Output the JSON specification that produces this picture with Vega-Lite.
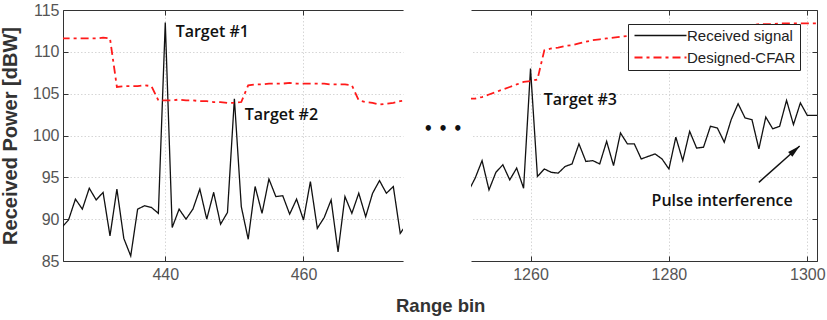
{
"$schema": "https://vega.github.io/schema/vega-lite/v6.json",
"background": "white",
"padding": {"left": 0, "top": 2, "right": 0, "bottom": 0},
"config": {
 "view": {"stroke": null},
 "axis": {"domainColor": "#333333", "domainWidth": 1, "tickColor": "#333333", "tickSize": -5, "tickWidth": 1,
  "labelFont": "Liberation Sans", "labelFontSize": 16, "labelColor": "#555555",
  "gridColor": "#d6d6d6", "gridDash": [1.5, 2], "gridWidth": 1,
  "titleFont": "Liberation Sans", "titleFontWeight": "bold", "titleColor": "#333333"}
},
"datasets": {
 "left": [
  {"bin":425,"power":89.0,"series":"Received signal"},{"bin":426,"power":89.9,"series":"Received signal"},{"bin":427,"power":92.4,"series":"Received signal"},{"bin":428,"power":91.2,"series":"Received signal"},{"bin":429,"power":93.7,"series":"Received signal"},{"bin":430,"power":92.3,"series":"Received signal"},{"bin":431,"power":93.2,"series":"Received signal"},{"bin":432,"power":88.0,"series":"Received signal"},{"bin":433,"power":93.6,"series":"Received signal"},{"bin":434,"power":87.7,"series":"Received signal"},{"bin":435,"power":85.6,"series":"Received signal"},{"bin":436,"power":91.2,"series":"Received signal"},{"bin":437,"power":91.6,"series":"Received signal"},{"bin":438,"power":91.4,"series":"Received signal"},{"bin":439,"power":90.7,"series":"Received signal"},{"bin":440,"power":113.5,"series":"Received signal"},{"bin":441,"power":89.0,"series":"Received signal"},{"bin":442,"power":91.2,"series":"Received signal"},{"bin":443,"power":90.0,"series":"Received signal"},{"bin":444,"power":91.2,"series":"Received signal"},{"bin":445,"power":93.6,"series":"Received signal"},{"bin":446,"power":90.0,"series":"Received signal"},{"bin":447,"power":93.2,"series":"Received signal"},{"bin":448,"power":89.4,"series":"Received signal"},{"bin":449,"power":90.8,"series":"Received signal"},{"bin":450,"power":104.4,"series":"Received signal"},{"bin":451,"power":91.5,"series":"Received signal"},{"bin":452,"power":87.6,"series":"Received signal"},{"bin":453,"power":93.9,"series":"Received signal"},{"bin":454,"power":90.7,"series":"Received signal"},{"bin":455,"power":94.8,"series":"Received signal"},{"bin":456,"power":92.7,"series":"Received signal"},{"bin":457,"power":92.8,"series":"Received signal"},{"bin":458,"power":90.6,"series":"Received signal"},{"bin":459,"power":92.4,"series":"Received signal"},{"bin":460,"power":89.9,"series":"Received signal"},{"bin":461,"power":94.5,"series":"Received signal"},{"bin":462,"power":88.9,"series":"Received signal"},{"bin":463,"power":90.2,"series":"Received signal"},{"bin":464,"power":92.3,"series":"Received signal"},{"bin":465,"power":86.1,"series":"Received signal"},{"bin":466,"power":92.7,"series":"Received signal"},{"bin":467,"power":90.7,"series":"Received signal"},{"bin":468,"power":93.1,"series":"Received signal"},{"bin":469,"power":90.3,"series":"Received signal"},{"bin":470,"power":93.1,"series":"Received signal"},{"bin":471,"power":94.6,"series":"Received signal"},{"bin":472,"power":93.1,"series":"Received signal"},{"bin":473,"power":93.9,"series":"Received signal"},{"bin":474,"power":88.3,"series":"Received signal"},{"bin":475,"power":89.5,"series":"Received signal"},
  {"bin":425,"power":111.6,"series":"Designed-CFAR"},{"bin":426,"power":111.6,"series":"Designed-CFAR"},{"bin":427,"power":111.6,"series":"Designed-CFAR"},{"bin":428,"power":111.6,"series":"Designed-CFAR"},{"bin":429,"power":111.6,"series":"Designed-CFAR"},{"bin":430,"power":111.6,"series":"Designed-CFAR"},{"bin":431,"power":111.7,"series":"Designed-CFAR"},{"bin":432,"power":111.6,"series":"Designed-CFAR"},{"bin":433,"power":105.8,"series":"Designed-CFAR"},{"bin":434,"power":105.9,"series":"Designed-CFAR"},{"bin":435,"power":105.9,"series":"Designed-CFAR"},{"bin":436,"power":105.9,"series":"Designed-CFAR"},{"bin":437,"power":106.0,"series":"Designed-CFAR"},{"bin":438,"power":105.9,"series":"Designed-CFAR"},{"bin":439,"power":104.2,"series":"Designed-CFAR"},{"bin":440,"power":104.2,"series":"Designed-CFAR"},{"bin":441,"power":104.2,"series":"Designed-CFAR"},{"bin":442,"power":104.3,"series":"Designed-CFAR"},{"bin":443,"power":104.2,"series":"Designed-CFAR"},{"bin":444,"power":104.2,"series":"Designed-CFAR"},{"bin":445,"power":104.1,"series":"Designed-CFAR"},{"bin":446,"power":104.1,"series":"Designed-CFAR"},{"bin":447,"power":104.0,"series":"Designed-CFAR"},{"bin":448,"power":104.0,"series":"Designed-CFAR"},{"bin":449,"power":103.9,"series":"Designed-CFAR"},{"bin":450,"power":103.9,"series":"Designed-CFAR"},{"bin":451,"power":104.0,"series":"Designed-CFAR"},{"bin":452,"power":106.0,"series":"Designed-CFAR"},{"bin":453,"power":106.1,"series":"Designed-CFAR"},{"bin":454,"power":106.1,"series":"Designed-CFAR"},{"bin":455,"power":106.2,"series":"Designed-CFAR"},{"bin":456,"power":106.2,"series":"Designed-CFAR"},{"bin":457,"power":106.2,"series":"Designed-CFAR"},{"bin":458,"power":106.3,"series":"Designed-CFAR"},{"bin":459,"power":106.2,"series":"Designed-CFAR"},{"bin":460,"power":106.2,"series":"Designed-CFAR"},{"bin":461,"power":106.2,"series":"Designed-CFAR"},{"bin":462,"power":106.2,"series":"Designed-CFAR"},{"bin":463,"power":106.2,"series":"Designed-CFAR"},{"bin":464,"power":106.1,"series":"Designed-CFAR"},{"bin":465,"power":106.1,"series":"Designed-CFAR"},{"bin":466,"power":106.1,"series":"Designed-CFAR"},{"bin":467,"power":106.0,"series":"Designed-CFAR"},{"bin":468,"power":104.2,"series":"Designed-CFAR"},{"bin":469,"power":104.0,"series":"Designed-CFAR"},{"bin":470,"power":103.9,"series":"Designed-CFAR"},{"bin":471,"power":103.7,"series":"Designed-CFAR"},{"bin":472,"power":103.8,"series":"Designed-CFAR"},{"bin":473,"power":103.9,"series":"Designed-CFAR"},{"bin":474,"power":104.1,"series":"Designed-CFAR"},{"bin":475,"power":104.2,"series":"Designed-CFAR"}
 ],
 "right": [
  {"bin":1251,"power":93.3,"series":"Received signal"},{"bin":1252,"power":94.9,"series":"Received signal"},{"bin":1253,"power":97.0,"series":"Received signal"},{"bin":1254,"power":93.5,"series":"Received signal"},{"bin":1255,"power":95.6,"series":"Received signal"},{"bin":1256,"power":96.5,"series":"Received signal"},{"bin":1257,"power":94.7,"series":"Received signal"},{"bin":1258,"power":96.1,"series":"Received signal"},{"bin":1259,"power":93.7,"series":"Received signal"},{"bin":1260,"power":108.0,"series":"Received signal"},{"bin":1261,"power":95.1,"series":"Received signal"},{"bin":1262,"power":96.0,"series":"Received signal"},{"bin":1263,"power":95.6,"series":"Received signal"},{"bin":1264,"power":95.5,"series":"Received signal"},{"bin":1265,"power":96.3,"series":"Received signal"},{"bin":1266,"power":96.6,"series":"Received signal"},{"bin":1267,"power":99.0,"series":"Received signal"},{"bin":1268,"power":96.9,"series":"Received signal"},{"bin":1269,"power":97.0,"series":"Received signal"},{"bin":1270,"power":96.6,"series":"Received signal"},{"bin":1271,"power":99.3,"series":"Received signal"},{"bin":1272,"power":96.4,"series":"Received signal"},{"bin":1273,"power":100.3,"series":"Received signal"},{"bin":1274,"power":99.0,"series":"Received signal"},{"bin":1275,"power":99.0,"series":"Received signal"},{"bin":1276,"power":97.2,"series":"Received signal"},{"bin":1277,"power":97.5,"series":"Received signal"},{"bin":1278,"power":97.8,"series":"Received signal"},{"bin":1279,"power":97.2,"series":"Received signal"},{"bin":1280,"power":96.0,"series":"Received signal"},{"bin":1281,"power":99.8,"series":"Received signal"},{"bin":1282,"power":97.0,"series":"Received signal"},{"bin":1283,"power":100.5,"series":"Received signal"},{"bin":1284,"power":98.5,"series":"Received signal"},{"bin":1285,"power":98.6,"series":"Received signal"},{"bin":1286,"power":101.1,"series":"Received signal"},{"bin":1287,"power":100.9,"series":"Received signal"},{"bin":1288,"power":99.2,"series":"Received signal"},{"bin":1289,"power":101.9,"series":"Received signal"},{"bin":1290,"power":103.8,"series":"Received signal"},{"bin":1291,"power":102.1,"series":"Received signal"},{"bin":1292,"power":101.9,"series":"Received signal"},{"bin":1293,"power":98.4,"series":"Received signal"},{"bin":1294,"power":102.2,"series":"Received signal"},{"bin":1295,"power":100.8,"series":"Received signal"},{"bin":1296,"power":101.1,"series":"Received signal"},{"bin":1297,"power":104.2,"series":"Received signal"},{"bin":1298,"power":101.3,"series":"Received signal"},{"bin":1299,"power":103.9,"series":"Received signal"},{"bin":1300,"power":102.4,"series":"Received signal"},{"bin":1301,"power":102.4,"series":"Received signal"},{"bin":1302,"power":102.4,"series":"Received signal"},
  {"bin":1251,"power":104.4,"series":"Designed-CFAR"},{"bin":1252,"power":104.4,"series":"Designed-CFAR"},{"bin":1253,"power":104.6,"series":"Designed-CFAR"},{"bin":1254,"power":104.9,"series":"Designed-CFAR"},{"bin":1255,"power":105.2,"series":"Designed-CFAR"},{"bin":1256,"power":105.5,"series":"Designed-CFAR"},{"bin":1257,"power":105.8,"series":"Designed-CFAR"},{"bin":1258,"power":106.1,"series":"Designed-CFAR"},{"bin":1259,"power":106.4,"series":"Designed-CFAR"},{"bin":1260,"power":106.5,"series":"Designed-CFAR"},{"bin":1261,"power":106.7,"series":"Designed-CFAR"},{"bin":1262,"power":110.2,"series":"Designed-CFAR"},{"bin":1263,"power":110.4,"series":"Designed-CFAR"},{"bin":1264,"power":110.5,"series":"Designed-CFAR"},{"bin":1265,"power":110.7,"series":"Designed-CFAR"},{"bin":1266,"power":110.8,"series":"Designed-CFAR"},{"bin":1267,"power":111.0,"series":"Designed-CFAR"},{"bin":1268,"power":111.2,"series":"Designed-CFAR"},{"bin":1269,"power":111.4,"series":"Designed-CFAR"},{"bin":1270,"power":111.5,"series":"Designed-CFAR"},{"bin":1271,"power":111.6,"series":"Designed-CFAR"},{"bin":1272,"power":111.7,"series":"Designed-CFAR"},{"bin":1273,"power":111.8,"series":"Designed-CFAR"},{"bin":1274,"power":111.9,"series":"Designed-CFAR"},{"bin":1275,"power":112.0,"series":"Designed-CFAR"},{"bin":1276,"power":112.1,"series":"Designed-CFAR"},{"bin":1277,"power":112.2,"series":"Designed-CFAR"},{"bin":1278,"power":112.3,"series":"Designed-CFAR"},{"bin":1279,"power":112.4,"series":"Designed-CFAR"},{"bin":1280,"power":112.5,"series":"Designed-CFAR"},{"bin":1281,"power":112.5,"series":"Designed-CFAR"},{"bin":1282,"power":112.6,"series":"Designed-CFAR"},{"bin":1283,"power":112.7,"series":"Designed-CFAR"},{"bin":1284,"power":112.8,"series":"Designed-CFAR"},{"bin":1285,"power":112.8,"series":"Designed-CFAR"},{"bin":1286,"power":112.9,"series":"Designed-CFAR"},{"bin":1287,"power":113.0,"series":"Designed-CFAR"},{"bin":1288,"power":113.0,"series":"Designed-CFAR"},{"bin":1289,"power":113.1,"series":"Designed-CFAR"},{"bin":1290,"power":113.1,"series":"Designed-CFAR"},{"bin":1291,"power":113.2,"series":"Designed-CFAR"},{"bin":1292,"power":113.2,"series":"Designed-CFAR"},{"bin":1293,"power":113.3,"series":"Designed-CFAR"},{"bin":1294,"power":113.3,"series":"Designed-CFAR"},{"bin":1295,"power":113.3,"series":"Designed-CFAR"},{"bin":1296,"power":113.4,"series":"Designed-CFAR"},{"bin":1297,"power":113.4,"series":"Designed-CFAR"},{"bin":1298,"power":113.4,"series":"Designed-CFAR"},{"bin":1299,"power":113.4,"series":"Designed-CFAR"},{"bin":1300,"power":113.4,"series":"Designed-CFAR"},{"bin":1301,"power":113.4,"series":"Designed-CFAR"},{"bin":1302,"power":113.4,"series":"Designed-CFAR"}
 ],
 "leftNotes": [
  {"bin": 441.5, "power": 112.4, "label": "Target #1"},
  {"bin": 451.5, "power": 102.5, "label": "Target #2"}
 ],
 "dots": [{"bin": 480.2, "power": 100.8, "label": "•  •  •"}],
 "rightNotes": [
  {"bin": 1261.9, "power": 104.2, "label": "Target #3"},
  {"bin": 1277.5, "power": 92.2, "label": "Pulse interference"}
 ],
 "arrow": [{"bin": 1293.0, "power": 94.4, "bin2": 1298.9, "power2": 98.75}]
},
"title": {"text": "Range bin", "orient": "bottom", "anchor": "middle", "font": "Liberation Sans", "fontSize": 18.5, "fontWeight": "bold", "color": "#333333", "offset": 15, "dx": 28},
"spacing": 3,
"resolve": {"scale": {"color": "independent", "strokeDash": "independent", "strokeWidth": "independent"}, "legend": {"color": "independent", "strokeDash": "independent", "strokeWidth": "independent"}},
"hconcat": [
 {
  "width": 340, "height": 251,
  "resolve": {"axis": {"x": "independent", "y": "independent"}},
  "layer": [
   {
    "data": {"name": "left"},
    "mark": {"type": "line", "clip": true},
    "encoding": {
     "x": {"field": "bin", "type": "quantitative", "scale": {"domain": [425.2, 474.4], "nice": false, "zero": false},
      "axis": {"orient": "bottom", "values": [440, 460], "format": "d", "grid": true, "title": null, "labelPadding": 10}},
     "y": {"field": "power", "type": "quantitative", "scale": {"domain": [85, 115], "nice": false, "zero": false},
      "axis": {"orient": "left", "values": [85, 90, 95, 100, 105, 110, 115], "grid": true, "title": "Received Power [dBW]", "titleFontSize": 20, "titlePadding": 12, "labelPadding": 9}},
     "color": {"field": "series", "type": "nominal", "scale": {"domain": ["Received signal", "Designed-CFAR"], "range": ["#111111", "#ff1a1a"]}, "legend": null},
     "strokeDash": {"field": "series", "type": "nominal", "scale": {"domain": ["Received signal", "Designed-CFAR"], "range": [[1, 0], [8, 4, 3, 4]]}, "legend": null},
     "strokeWidth": {"field": "series", "type": "nominal", "scale": {"domain": ["Received signal", "Designed-CFAR"], "range": [1.3, 1.8]}, "legend": null}
    }
   },
   {
    "data": {"name": "leftNotes"},
    "mark": {"type": "text", "align": "left", "baseline": "middle", "font": "Open Sans", "fontSize": 16, "fontWeight": 600, "color": "#111111"},
    "encoding": {
     "x": {"field": "bin", "type": "quantitative", "axis": {"orient": "top", "values": [440, 460], "labels": false, "grid": false, "title": null}},
     "y": {"field": "power", "type": "quantitative", "axis": null},
     "text": {"field": "label"}
    }
   },
   {
    "data": {"name": "dots"},
    "mark": {"type": "text", "align": "center", "baseline": "middle", "font": "DejaVu Sans", "fontSize": 15, "fontWeight": "bold", "color": "#111111"},
    "encoding": {
     "x": {"field": "bin", "type": "quantitative", "axis": null},
     "y": {"field": "power", "type": "quantitative", "axis": null},
     "text": {"field": "label"}
    }
   }
  ]
 },
 {
  "width": 346, "height": 251,
  "resolve": {"axis": {"x": "independent", "y": "independent"}},
  "layer": [
   {
    "data": {"name": "right"},
    "mark": {"type": "line", "clip": true},
    "encoding": {
     "x": {"field": "bin", "type": "quantitative", "scale": {"domain": [1251.4, 1301.4], "nice": false, "zero": false},
      "axis": {"orient": "bottom", "values": [1260, 1280, 1300], "format": "d", "grid": true, "title": null, "labelPadding": 10}},
     "y": {"field": "power", "type": "quantitative", "scale": {"domain": [85, 115], "nice": false, "zero": false},
      "axis": {"orient": "right", "values": [85, 90, 95, 100, 105, 110, 115], "grid": true, "labels": false, "title": null}},
     "color": {"field": "series", "type": "nominal", "scale": {"domain": ["Received signal", "Designed-CFAR"], "range": ["#111111", "#ff1a1a"]},
      "legend": {"orient": "none", "legendX": 157, "legendY": 14, "title": null, "fillColor": "white", "strokeColor": "#222222", "padding": 4, "rowPadding": 6,
       "symbolType": "M-20,0H20", "symbolSize": 6.76, "symbolOffset": 21, "symbolStrokeWidth": 1.6, "labelFont": "Liberation Sans", "labelFontSize": 15, "labelColor": "#222222", "labelOffset": 19}},
     "strokeDash": {"field": "series", "type": "nominal", "scale": {"domain": ["Received signal", "Designed-CFAR"], "range": [[1, 0], [8, 4, 3, 4]]},
      "legend": {"orient": "none", "legendX": 157, "legendY": 14, "title": null, "fillColor": "white", "strokeColor": "#222222", "padding": 4, "rowPadding": 6,
       "symbolType": "M-20,0H20", "symbolSize": 6.76, "symbolOffset": 21, "symbolStrokeWidth": 1.6, "labelFont": "Liberation Sans", "labelFontSize": 15, "labelColor": "#222222", "labelOffset": 19}},
     "strokeWidth": {"field": "series", "type": "nominal", "scale": {"domain": ["Received signal", "Designed-CFAR"], "range": [1.3, 1.8]}, "legend": null}
    }
   },
   {
    "data": {"name": "rightNotes"},
    "mark": {"type": "text", "align": "left", "baseline": "middle", "font": "Open Sans", "fontSize": 16, "fontWeight": 600, "color": "#111111"},
    "encoding": {
     "x": {"field": "bin", "type": "quantitative", "axis": {"orient": "top", "values": [1260, 1280, 1300], "labels": false, "grid": false, "title": null}},
     "y": {"field": "power", "type": "quantitative", "axis": null},
     "text": {"field": "label"}
    }
   },
   {
    "data": {"name": "arrow"},
    "mark": {"type": "rule", "color": "#111111", "strokeWidth": 1.5},
    "encoding": {
     "x": {"field": "bin", "type": "quantitative", "axis": null},
     "y": {"field": "power", "type": "quantitative", "axis": null},
     "x2": {"field": "bin2"},
     "y2": {"field": "power2"}
    }
   },
   {
    "data": {"name": "arrow"},
    "mark": {"type": "point", "shape": "M0,0L0.45,1.8L-0.45,1.8Z", "filled": true, "color": "#111111", "opacity": 1, "size": 200, "angle": 48},
    "encoding": {
     "x": {"field": "bin2", "type": "quantitative", "axis": null},
     "y": {"field": "power2", "type": "quantitative", "axis": null}
    }
   }
  ]
 }
]
}
